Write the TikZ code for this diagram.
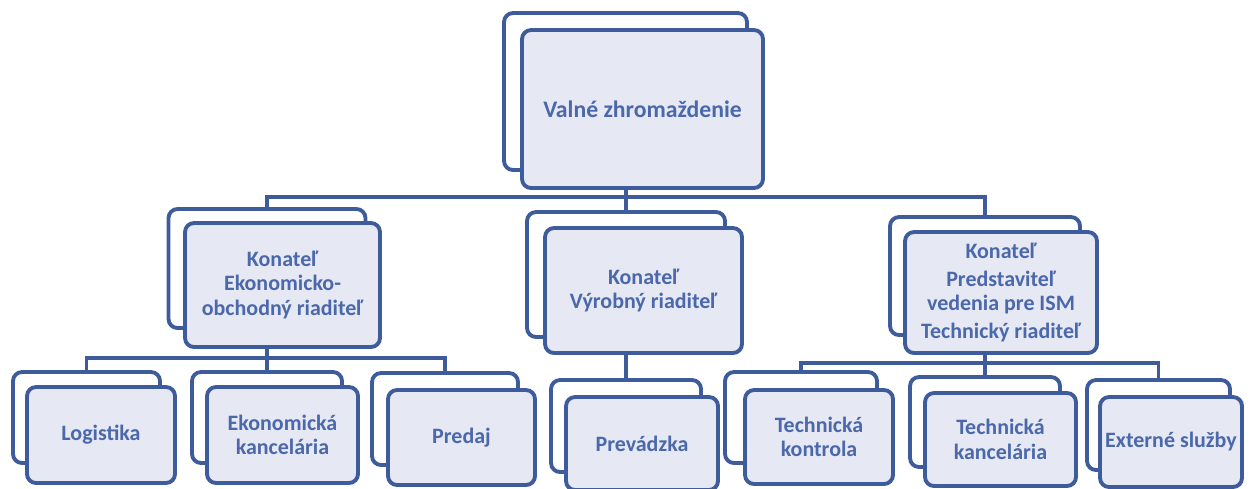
\documentclass[tikz,border=0pt]{standalone}
\usepackage{fontspec}
\setmainfont{Carlito}
\usetikzlibrary{positioning}
\definecolor{boxline}{HTML}{3E5C9C}
\definecolor{boxfill}{HTML}{E6E8F4}
\definecolor{boxtext}{HTML}{4A68AA}

\begin{document}
\begin{tikzpicture}[x=0.02cm, y=-0.02cm,
  conn/.style={draw=boxline, line width=2.2pt},
  backbox/.style={draw=boxline, fill=white, line width=2.2pt, rounded corners=0.18cm, inner sep=0pt},
  frontbox/.style={draw=boxline, fill=boxfill, line width=2.2pt, rounded corners=0.18cm, inner sep=2pt,
                   text=boxtext, align=center, font=\bfseries\fontsize{12.5}{14}\selectfont}]
  \path[use as bounding box, fill=white] (0,0) rectangle (1251,488);
  % Top level
  \node[backbox, minimum width=4.86cm, minimum height=3.14cm] (vzb) at (625.5,91.5) {};
  \node[frontbox, minimum width=4.82cm, minimum height=3.16cm, font=\bfseries\fontsize{13.5}{15}\selectfont]
    (vz) at (642.5,109) {Valné zhromaždenie};
  % Konatelia
  \node[backbox, minimum width=3.94cm, minimum height=2.38cm] (eob) at (267,268.5) {};
  \node[frontbox, minimum width=3.90cm, minimum height=2.48cm] (eo) at (282.5,285)
    {Konateľ\\Ekonomicko-\\obchodný riaditeľ};
  \node[backbox, minimum width=3.96cm, minimum height=2.50cm] (vrb) at (626,274.5) {};
  \node[frontbox, minimum width=3.94cm, minimum height=2.50cm] (vr) at (643.5,290.5)
    {Konateľ\\Výrobný riaditeľ};
  \node[backbox, minimum width=3.80cm, minimum height=2.36cm] (trb) at (985,276) {};
  \node[frontbox, minimum width=3.84cm, minimum height=2.42cm] (tr) at (1001,292.5)
    {Konateľ\\[1.5pt]Predstaviteľ\\vedenia pre ISM\\[1.5pt]Technický riaditeľ};
  % Oddelenia
  \node[backbox, minimum width=2.94cm, minimum height=1.82cm] (logb) at (86.5,417.5) {};
  \node[frontbox, minimum width=2.96cm, minimum height=1.92cm] (log) at (101,435) {Logistika};
  \node[backbox, minimum width=3.00cm, minimum height=1.82cm] (ekb) at (267,417.5) {};
  \node[frontbox, minimum width=3.02cm, minimum height=1.92cm] (ek) at (282.5,435) {Ekonomická\\kancelária};
  \node[backbox, minimum width=2.92cm, minimum height=1.84cm] (predb) at (445,419) {};
  \node[frontbox, minimum width=2.94cm, minimum height=1.90cm] (pred) at (461.5,437.5) {Predaj};
  \node[backbox, minimum width=3.00cm, minimum height=1.84cm] (prevb) at (626,426) {};
  \node[frontbox, minimum width=3.04cm, minimum height=1.86cm] (prev) at (642,443.5) {Prevádzka};
  \node[backbox, minimum width=3.04cm, minimum height=1.82cm] (tkb) at (801,417.5) {};
  \node[frontbox, minimum width=2.96cm, minimum height=1.88cm] (tk) at (819,437) {Technická\\kontrola};
  \node[backbox, minimum width=3.00cm, minimum height=1.80cm] (tkancb) at (985,422) {};
  \node[frontbox, minimum width=3.02cm, minimum height=1.86cm] (tkanc) at (1000.5,439.5) {Technická\\kancelária};
  \node[backbox, minimum width=2.86cm, minimum height=1.80cm] (extb) at (1158.5,425) {};
  \node[frontbox, minimum width=2.84cm, minimum height=1.80cm] (ext) at (1171,442) {Externé služby};
  % Connectors
  \coordinate (bus1) at (626,197);
  \coordinate (bus2) at (267,358);
  \coordinate (bus3) at (985,363);
  \draw[conn] (vz.south -| vrb) -- (vrb.north);
  \draw[conn] (eob.north) |- (bus1) -| (trb.north);
  \draw[conn] (eo.south -| eob) -- (ekb.north);
  \draw[conn] (logb.north) |- (bus2) -| (predb.north);
  \draw[conn] (vr.south -| vrb) -- (prevb.north);
  \draw[conn] (tr.south -| trb) -- (tkancb.north);
  \draw[conn] (tkb.north) |- (bus3) -| (extb.north);
\end{tikzpicture}
\end{document}
